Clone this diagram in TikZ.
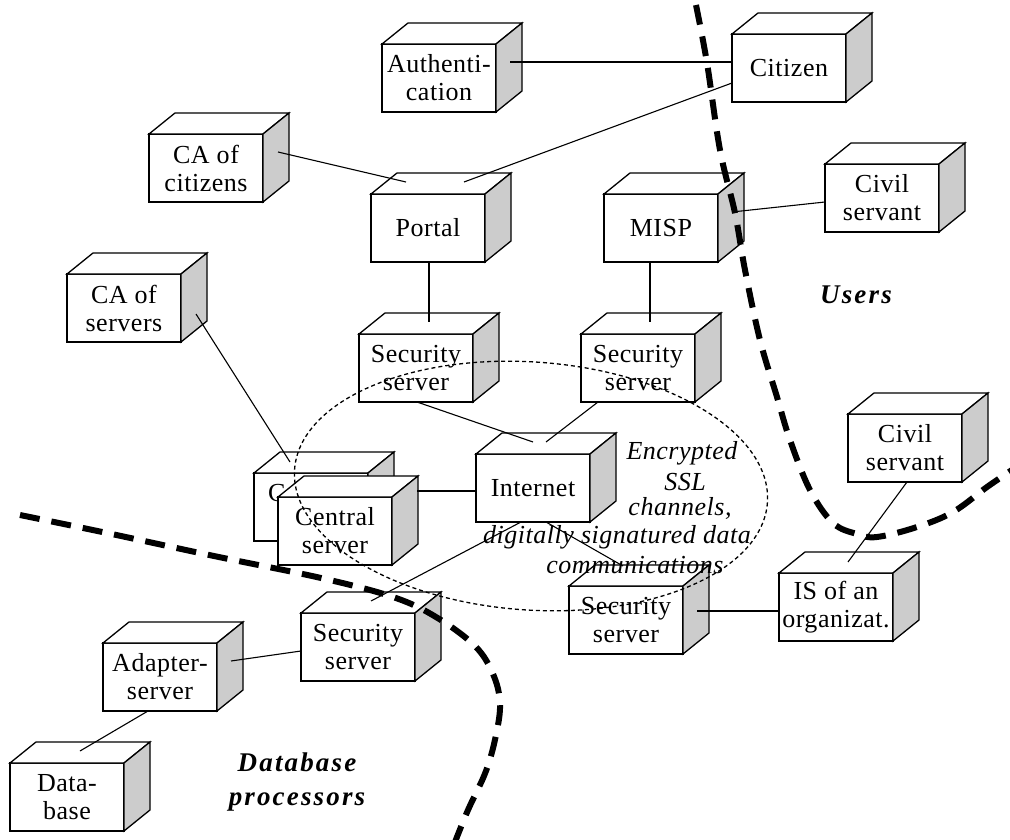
\documentclass[tikz,border=0pt]{standalone}
\usepackage{fontspec}
\setmainfont{Liberation Serif}[LetterSpace=2]
\newfontfamily\labelfont{Liberation Serif}[LetterSpace=8]
\usetikzlibrary{calc}
\definecolor{sidegray}{RGB}{204,204,204}
\tikzset{
  cubefront/.style={draw, line width=1.3pt, fill=white, minimum width=114pt, minimum height=68pt,
    inner sep=0pt, outer sep=0pt, align=center, font=\fontsize{26}{28}\selectfont},
  cubeedge/.style={line width=1.3pt, line join=miter},
  conn/.style={line width=1.1pt},
  ssl/.style={line width=1.3pt, dash pattern=on 4pt off 3pt},
  zone/.style={line width=6pt, dash pattern=on 20pt off 12pt},
  ssltext/.style={font=\fontsize{26}{28}\selectfont\itshape, inner sep=0pt},
  zonetext/.style={font=\labelfont\fontsize{27}{34}\selectfont\bfseries\itshape, align=center, inner sep=0pt}
}
\newcommand\cubebox[3]{%
  \node[cubefront] (#1) at (#2) {#3};
  \filldraw[cubeedge, fill=white] (#1.north west) -- ++(26,-21) -- ($(#1.north east)+(26,-21)$) -- (#1.north east) -- cycle;
  \filldraw[cubeedge, fill=sidegray] (#1.north east) -- ++(26,-21) -- ($(#1.south east)+(26,-21)$) -- (#1.south east) -- cycle;
}
\begin{document}
\begin{tikzpicture}[x=1pt, y=-1pt]
\useasboundingbox (0,0) rectangle (1010,840);
\fill[white] (0,0) rectangle (1010,840);
% boxes
\cubebox{auth}{439,78}{Authenti-\\cation}
\cubebox{citizen}{789,68}{Citizen}
\cubebox{civilA}{882,198}{Civil\\servant}
\cubebox{cacit}{206,168}{CA of\\citizens}
\cubebox{portal}{428,228}{Portal}
\cubebox{misp}{661,228}{MISP}
\cubebox{caserv}{124,308}{CA of\\servers}
\cubebox{secA}{416,368}{Security\\server}
\cubebox{secB}{638,368}{Security\\server}
\cubebox{inet}{533,488}{Internet}
\cubebox{centralback}{311,507}{}
\node[font=\fontsize{26}{28}\selectfont, inner sep=0pt, anchor=west] (cpart) at (268,493) {C};
\cubebox{central}{335,531}{Central\\server}
\cubebox{civilB}{905,448}{Civil\\servant}
\cubebox{secC}{358,647}{Security\\server}
\cubebox{secD}{626,620}{Security\\server}
\cubebox{isorg}{836,607}{IS of an\\organizat.}
\cubebox{adapter}{160,677}{Adapter-\\server}
\cubebox{db}{67,797}{Data-\\base}
% connectors
\draw[conn] ($(auth.center)+(71,-16)$) -- ($(citizen.west)+(0,-6)$);
\draw[conn] ($(citizen.west)+(0,15)$) -- ($(portal.center)+(36,-46)$);
\draw[conn] ($(cacit.center)+(72,-16)$) -- ($(portal.center)+(-22,-46)$);
\draw[conn] ($(portal.south)+(1,0)$) -- ($(secA.center)+(13,-46)$);
\draw[conn] ($(misp.south)+(-11,0)$) -- ($(secB.center)+(12,-46)$);
\draw[conn] ($(misp.center)+(71,-16)$) -- ($(civilA.west)+(0,4)$);
\draw[conn] ($(caserv.center)+(72,6)$) -- ($(centralback.center)+(-21,-45)$);
\draw[conn] ($(central.center)+(82,-40)$) -- ($(inet.west)+(0,3)$);
\draw[conn] ($(secA.south)+(1,0)$) -- ($(inet.center)+(0,-46)$);
\draw[conn] ($(secB.south)+(-40,0)$) -- ($(inet.center)+(13,-46)$);
\draw[conn] ($(inet.south)+(-12,0)$) -- ($(secC.center)+(13,-46)$);
\draw[conn] ($(inet.south)+(13,0)$) -- ($(secD.center)+(-3,-54)$);
\draw[conn] ($(secD.center)+(71,-9)$) -- ($(isorg.west)+(0,4)$);
\draw[conn] ($(isorg.center)+(12,-45)$) -- ($(civilB.south)+(2,0)$);
\draw[conn] ($(adapter.center)+(71,-16)$) -- ($(secC.west)+(0,4)$);
\draw[conn] ($(adapter.south)+(-12,0)$) -- ($(db.center)+(13,-46)$);
% SSL ellipse
\draw[ssl] (531,486) ellipse [x radius=237, y radius=124, rotate=-4];
% zone borders
\draw[zone] plot[smooth, tension=0.6] coordinates {(696,5) (707,63) (720,150) (735,213) (745,270) (760,340) (777,397) (790,440) (810,490) (833,523) (857,534) (877,537) (917,527) (953,512) (987,487) (1012,470)};
\draw[zone] plot[smooth, tension=0.6] coordinates {(20,515) (107,533) (214,556) (321,578) (393,597) (436,617) (475,646) (493,674) (500,703) (496,735) (486,771) (468,810) (455,842)};
% texts
\node[ssltext] (t1) at (682,453) {Encrypted};
\node[ssltext] (t2) at (685,482) {SSL};
\node[ssltext] (t3) at (680,508) {channels,};
\node[ssltext] (t4) at (617,537) {digitally signatured data};
\node[ssltext] (t5) at (635,565) {communications};
\node[zonetext] (users) at (856,295) {Users};
\node[zonetext] (dbp) at (297,782) {Database\\processors};
\end{tikzpicture}
\end{document}
